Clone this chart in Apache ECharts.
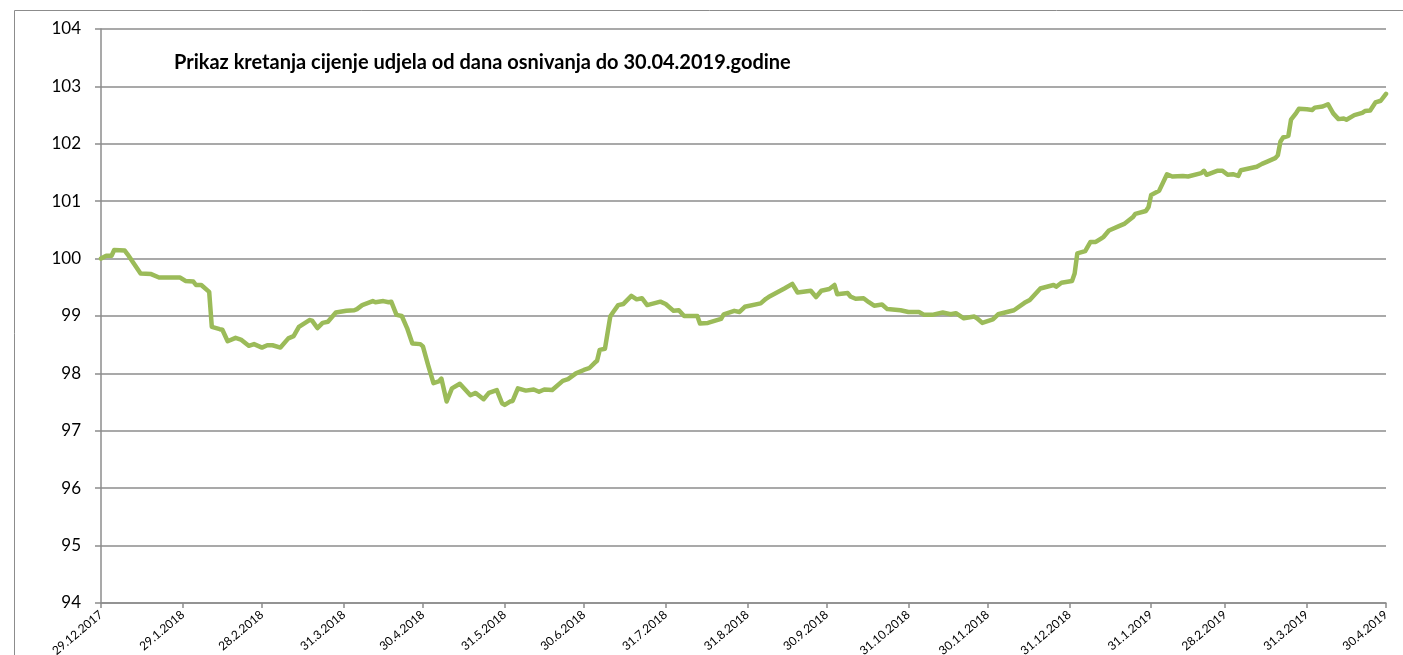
<!DOCTYPE html>
<html>
<head>
<meta charset="utf-8">
<title>Prikaz kretanja cijenje udjela</title>
<script src="https://cdn.jsdelivr.net/npm/echarts@6/dist/echarts.min.js"></script>
<style>
  html, body { margin: 0; padding: 0; background: #fff; }
  #chart { width: 1403px; height: 655px; }
</style>
</head>
<body>
<div id="chart"></div>
<script>
// x axis runs day by day from the fund's start to the report date
var firstDay = '2017-12-29'
var lastDay = '2019-04-30'
// tick dates on the x axis (as printed)
var tickLabels = [
  '29.12.2017', '29.1.2018', '28.2.2018', '31.3.2018', '30.4.2018', '31.5.2018',
  '30.6.2018', '31.7.2018', '31.8.2018', '30.9.2018', '31.10.2018', '30.11.2018',
  '31.12.2018', '31.1.2019', '28.2.2019', '31.3.2019', '30.4.2019'
]
var yTicks = [94, 95, 96, 97, 98, 99, 100, 101, 102, 103, 104]

// share value
var dates = [
  '2017-12-29', '2017-12-31', '2018-01-02', '2018-01-03', '2018-01-07', '2018-01-08',
  '2018-01-13', '2018-01-17', '2018-01-20', '2018-01-28', '2018-01-30', '2018-02-02',
  '2018-02-03', '2018-02-05', '2018-02-08', '2018-02-09', '2018-02-12', '2018-02-13',
  '2018-02-15', '2018-02-18', '2018-02-20', '2018-02-23', '2018-02-25', '2018-02-28',
  '2018-03-02', '2018-03-04', '2018-03-07', '2018-03-10', '2018-03-12', '2018-03-14',
  '2018-03-18', '2018-03-19', '2018-03-21', '2018-03-23', '2018-03-25', '2018-03-28',
  '2018-04-01', '2018-04-04', '2018-04-05', '2018-04-07', '2018-04-11', '2018-04-12',
  '2018-04-15', '2018-04-17', '2018-04-18', '2018-04-20', '2018-04-22', '2018-04-24',
  '2018-04-26', '2018-04-29', '2018-04-30', '2018-05-02', '2018-05-04', '2018-05-06',
  '2018-05-07', '2018-05-09', '2018-05-11', '2018-05-14', '2018-05-18', '2018-05-20',
  '2018-05-23', '2018-05-25', '2018-05-28', '2018-05-30', '2018-05-31', '2018-06-02',
  '2018-06-03', '2018-06-05', '2018-06-08', '2018-06-11', '2018-06-13', '2018-06-15',
  '2018-06-18', '2018-06-22', '2018-06-24', '2018-06-27', '2018-06-30', '2018-07-02',
  '2018-07-04', '2018-07-05', '2018-07-06', '2018-07-08', '2018-07-10', '2018-07-11',
  '2018-07-13', '2018-07-15', '2018-07-18', '2018-07-20', '2018-07-22', '2018-07-24',
  '2018-07-29', '2018-07-31', '2018-08-03', '2018-08-05', '2018-08-07', '2018-08-12',
  '2018-08-13', '2018-08-16', '2018-08-21', '2018-08-22', '2018-08-26', '2018-08-28',
  '2018-08-30', '2018-09-05', '2018-09-07', '2018-09-08', '2018-09-14', '2018-09-17',
  '2018-09-19', '2018-09-24', '2018-09-26', '2018-09-28', '2018-10-01', '2018-10-03',
  '2018-10-04', '2018-10-08', '2018-10-09', '2018-10-11', '2018-10-14', '2018-10-16',
  '2018-10-18', '2018-10-21', '2018-10-23', '2018-10-28', '2018-10-31', '2018-11-04',
  '2018-11-06', '2018-11-09', '2018-11-13', '2018-11-16', '2018-11-18', '2018-11-21',
  '2018-11-25', '2018-11-26', '2018-11-28', '2018-12-02', '2018-12-04', '2018-12-10',
  '2018-12-14', '2018-12-16', '2018-12-20', '2018-12-25', '2018-12-26', '2018-12-28',
  '2019-01-01', '2019-01-02', '2019-01-03', '2019-01-06', '2019-01-08', '2019-01-10',
  '2019-01-12', '2019-01-13', '2019-01-15', '2019-01-19', '2019-01-21', '2019-01-24',
  '2019-01-25', '2019-01-29', '2019-01-30', '2019-01-31', '2019-02-03', '2019-02-06',
  '2019-02-08', '2019-02-12', '2019-02-14', '2019-02-19', '2019-02-20', '2019-02-21',
  '2019-02-25', '2019-02-27', '2019-03-01', '2019-03-03', '2019-03-05', '2019-03-06',
  '2019-03-12', '2019-03-14', '2019-03-16', '2019-03-19', '2019-03-20', '2019-03-21',
  '2019-03-22', '2019-03-24', '2019-03-25', '2019-03-27', '2019-03-28', '2019-03-31',
  '2019-04-02', '2019-04-03', '2019-04-06', '2019-04-08', '2019-04-10', '2019-04-12',
  '2019-04-14', '2019-04-15', '2019-04-18', '2019-04-21', '2019-04-22', '2019-04-24',
  '2019-04-26', '2019-04-28', '2019-04-30'
]
var values = [
  100.00, 100.05, 100.05, 100.15, 100.14, 100.08,
  99.74, 99.73, 99.67, 99.67, 99.61, 99.60,
  99.54, 99.54, 99.42, 98.81, 98.77, 98.76,
  98.56, 98.62, 98.59, 98.48, 98.51, 98.45,
  98.49, 98.49, 98.45, 98.61, 98.65, 98.81,
  98.93, 98.92, 98.79, 98.88, 98.90, 99.06,
  99.09, 99.10, 99.12, 99.19, 99.26, 99.24,
  99.26, 99.24, 99.25, 99.02, 99.00, 98.79,
  98.52, 98.51, 98.47, 98.14, 97.83, 97.86,
  97.91, 97.51, 97.74, 97.82, 97.62, 97.66,
  97.55, 97.66, 97.71, 97.48, 97.45, 97.51,
  97.52, 97.74, 97.70, 97.72, 97.68, 97.72,
  97.71, 97.87, 97.90, 98.00, 98.06, 98.09,
  98.18, 98.22, 98.41, 98.43, 98.99, 99.06,
  99.19, 99.21, 99.35, 99.29, 99.31, 99.19,
  99.25, 99.21, 99.09, 99.10, 99.00, 99.00,
  98.87, 98.88, 98.95, 99.03, 99.09, 99.07,
  99.16, 99.22, 99.30, 99.33, 99.48, 99.56,
  99.41, 99.44, 99.33, 99.44, 99.47, 99.54,
  99.38, 99.40, 99.34, 99.30, 99.31, 99.24,
  99.18, 99.20, 99.12, 99.10, 99.07, 99.07,
  99.02, 99.02, 99.06, 99.03, 99.05, 98.96,
  98.99, 98.96, 98.88, 98.94, 99.03, 99.10,
  99.23, 99.28, 99.48, 99.54, 99.51, 99.58,
  99.61, 99.74, 100.09, 100.13, 100.29, 100.29,
  100.35, 100.38, 100.49, 100.57, 100.61, 100.72,
  100.78, 100.83, 100.90, 101.11, 101.18, 101.47,
  101.43, 101.44, 101.43, 101.49, 101.53, 101.46,
  101.53, 101.53, 101.46, 101.47, 101.44, 101.54,
  101.60, 101.65, 101.69, 101.75, 101.80, 102.04,
  102.11, 102.14, 102.42, 102.54, 102.61, 102.60,
  102.59, 102.63, 102.65, 102.69, 102.53, 102.43,
  102.44, 102.42, 102.50, 102.54, 102.57, 102.58,
  102.72, 102.75, 102.87
]

var titleText = 'Prikaz kretanja cijenje udjela od dana osnivanja do 30.04.2019.godine'

function pad(n) { return n < 10 ? '0' + n : '' + n }
function isoOf(d) { return d.getFullYear() + '-' + pad(d.getMonth() + 1) + '-' + pad(d.getDate()) }
function dateOf(iso) {
  var p = iso.split('-')
  return new Date(+p[0], +p[1] - 1, +p[2])
}
// '29.1.2018' -> '2018-01-29'
function tickIso(s) {
  var p = s.split('.')
  return p[2] + '-' + pad(+p[1]) + '-' + pad(+p[0])
}
function fmtTick(iso) {
  var d = dateOf(iso)
  return d.getDate() + '.' + (d.getMonth() + 1) + '.' + d.getFullYear()
}

// one category per calendar day
var days = []
for (var t = dateOf(firstDay); isoOf(t) <= lastDay; t.setDate(t.getDate() + 1)) {
  days.push(isoOf(t))
}
var tickSet = {}
tickLabels.forEach(function (s) { tickSet[tickIso(s)] = true })
function onTick(index, value) { return !!tickSet[value] }

var seriesData = dates.map(function (d, i) { return [d, values[i]] })

var font = 'Lato, "Open Sans", sans-serif'
var gridColor = '#8c8c8c'

var chart = echarts.init(document.getElementById('chart'), null, { renderer: 'canvas' })
chart.setOption({
  animation: false,
  backgroundColor: '#fff',
  title: {
    text: titleText,
    left: 169,
    top: 48,
    textStyle: { fontFamily: font, fontSize: 20, fontWeight: 'bold', color: '#000' }
  },
  graphic: [{
    type: 'rect',
    shape: { x: 14.5, y: 10.5, width: 1400, height: 700 },
    style: { fill: 'none', stroke: '#8c8c8c', lineWidth: 1 },
    silent: true
  }],
  grid: { left: 101, right: 17, top: 29, bottom: 52, outerBoundsMode: 'none' },
  xAxis: {
    type: 'category',
    data: days,
    boundaryGap: false,
    axisLine: { lineStyle: { color: gridColor, width: 1.5 } },
    axisTick: { show: true, length: 5, interval: onTick, lineStyle: { color: gridColor, width: 1.5 } },
    axisLabel: {
      interval: onTick,
      formatter: fmtTick,
      rotate: 40,
      margin: 10,
      hideOverlap: false,
      fontFamily: font,
      fontSize: 12,
      color: '#000'
    },
    splitLine: { show: false }
  },
  yAxis: {
    type: 'value',
    min: yTicks[0],
    max: yTicks[yTicks.length - 1],
    interval: 1,
    axisLine: { show: true, lineStyle: { color: gridColor, width: 1.5 } },
    axisTick: { show: true, length: 6, lineStyle: { color: gridColor, width: 1.5 } },
    axisLabel: { fontFamily: font, fontSize: 17, color: '#000', margin: 20 },
    splitLine: { show: true, lineStyle: { color: gridColor, width: 1.5 } }
  },
  series: [{
    type: 'line',
    data: seriesData,
    showSymbol: false,
    smooth: false,
    lineStyle: { color: '#9BBB59', width: 4.5, cap: 'round', join: 'round' }
  }]
})
</script>
</body>
</html>
